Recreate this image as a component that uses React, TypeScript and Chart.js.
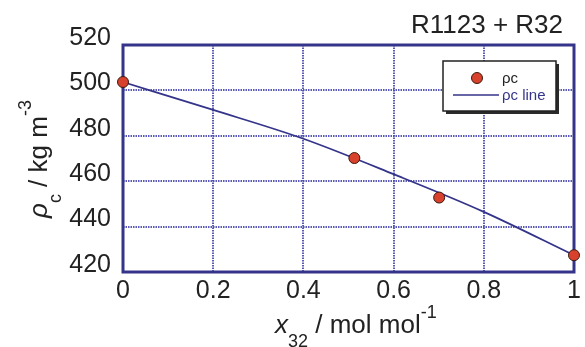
import React, { useEffect, useRef } from "react";
import { Chart, registerables } from "chart.js";

Chart.register(...registerables);

// ---- data ----
const pointX = [0, 0.513, 0.701, 1];
const pointY = [503.7, 470.2, 452.8, 427.4];
const lineX = [0, 0.2, 0.4, 0.6, 0.8, 1];
const lineY = [503.7, 491.4, 478.7, 463.1, 446.5, 427.4];
const xTicks = [0, 0.2, 0.4, 0.6, 0.8, 1];
const yTicks = [420, 440, 460, 480, 500, 520];
const seriesNames = ["ρc", "ρc line"];
const chartTitle = "R1123 + R32";

// ---- styles ----
const NAVY = "#34348a";
const GRID = "rgba(72,72,172,0.9)";
const RED = "#d8412b";
const TEXT = "#222222";
const FONT = "'Liberation Sans', Arial, sans-serif";

type Seg = { t: string; size: number; dy: number; italic?: boolean };

function drawRich(ctx: CanvasRenderingContext2D, segs: Seg[], x: number, y: number) {
  let cx = x;
  for (const s of segs) {
    ctx.font = `${s.italic ? "italic " : ""}${s.size}px ${FONT}`;
    ctx.fillText(s.t, cx, y + s.dy);
    cx += ctx.measureText(s.t).width;
  }
}

const decorPlugin = {
  id: "decor",
  beforeDatasetsDraw(chart: any) {
    const { ctx, chartArea: a } = chart;
    ctx.save();
    ctx.strokeStyle = NAVY;
    ctx.lineWidth = 3;
    ctx.strokeRect(a.left, a.top, a.right - a.left, a.bottom - a.top);
    ctx.restore();
  },
  afterDraw(chart: any) {
    const ctx: CanvasRenderingContext2D = chart.ctx;
    ctx.save();
    ctx.fillStyle = TEXT;
    ctx.textBaseline = "alphabetic";
    ctx.textAlign = "left";

    // title
    ctx.font = `26px ${FONT}`;
    ctx.textAlign = "right";
    ctx.fillText(chartTitle, 563, 33);
    ctx.textAlign = "left";

    // x axis title
    drawRich(
      ctx,
      [
        { t: "x", size: 26, dy: 0, italic: true },
        { t: "32", size: 18, dy: 14 },
        { t: " / mol mol", size: 26, dy: 0 },
        { t: "-1", size: 18, dy: -15 },
      ],
      275,
      333
    );

    // y axis title
    ctx.save();
    ctx.translate(47, 218);
    ctx.rotate(-Math.PI / 2);
    drawRich(
      ctx,
      [
        { t: "ρ", size: 26, dy: 0, italic: true },
        { t: "c", size: 18, dy: 14 },
        { t: " / kg m", size: 26, dy: 0 },
        { t: "-3", size: 18, dy: -16 },
      ],
      0,
      0
    );
    ctx.restore();

    // legend
    const bx = 443, by = 61, bw = 113, bh = 50;
    ctx.fillStyle = "#2a2a2a";
    ctx.fillRect(bx + 3, by + 3, bw, bh);
    ctx.fillStyle = "#ffffff";
    ctx.fillRect(bx, by, bw, bh);
    ctx.strokeStyle = "#222222";
    ctx.lineWidth = 1.5;
    ctx.strokeRect(bx, by, bw, bh);

    ctx.beginPath();
    ctx.arc(477, 78, 5.5, 0, Math.PI * 2);
    ctx.fillStyle = RED;
    ctx.fill();
    ctx.strokeStyle = "#3a1a10";
    ctx.lineWidth = 1;
    ctx.stroke();

    ctx.beginPath();
    ctx.moveTo(453, 95);
    ctx.lineTo(499, 95);
    ctx.strokeStyle = NAVY;
    ctx.lineWidth = 1.5;
    ctx.stroke();

    ctx.font = `15px ${FONT}`;
    ctx.fillStyle = TEXT;
    ctx.fillText(seriesNames[0], 502, 83);
    ctx.fillStyle = NAVY;
    ctx.fillText(seriesNames[1], 502, 100);

    ctx.restore();
  },
};

export default function App() {
  const ref = useRef<HTMLCanvasElement>(null);

  useEffect(() => {
    if (!ref.current) return;
    const gridColor = (c: any) =>
      c.index === 0 || c.index === 5 ? "rgba(0,0,0,0)" : GRID;
    const chart = new Chart(ref.current, {
      type: "scatter",
      data: {
        datasets: [
          {
            label: seriesNames[0],
            data: pointX.map((x, i) => ({ x, y: pointY[i] })),
            showLine: false,
            pointRadius: 5.5,
            pointBackgroundColor: RED,
            pointBorderColor: "#3a1a10",
            pointBorderWidth: 1,
            clip: false as any,
          },
          {
            label: seriesNames[1],
            data: lineX.map((x, i) => ({ x, y: lineY[i] })),
            showLine: true,
            pointRadius: 0,
            borderColor: NAVY,
            borderWidth: 1.8,
            cubicInterpolationMode: "monotone",
            clip: false as any,
          },
        ],
      },
      options: {
        animation: false,
        responsive: false,
        layout: { padding: { left: 0, top: 45, right: 11, bottom: 0 } },
        plugins: {
          legend: { display: false },
          tooltip: { enabled: false },
          title: { display: false },
        },
        scales: {
          x: {
            type: "linear",
            min: 0,
            max: 1,
            afterBuildTicks: (s: any) => {
              s.ticks = xTicks.map((v) => ({ value: v }));
            },
            afterFit: (s: any) => {
              s.height = 75;
            },
            ticks: {
              color: TEXT,
              font: { family: FONT, size: 25 },
              padding: 4,
              maxRotation: 0,
              callback: (v: any) => String(Number(Number(v).toFixed(1))),
            },
            grid: { color: gridColor, lineWidth: 2, drawTicks: false },
            border: { display: false, dash: [1.5, 1] },
          },
          y: {
            type: "linear",
            min: 420,
            max: 520,
            afterBuildTicks: (s: any) => {
              s.ticks = yTicks.map((v) => ({ value: v }));
            },
            afterFit: (s: any) => {
              s.width = 123;
            },
            ticks: {
              color: TEXT,
              font: { family: FONT, size: 25 },
              padding: 12,
              labelOffset: -7,
            },
            grid: { color: gridColor, lineWidth: 2, drawTicks: false },
            border: { display: false, dash: [1.5, 1] },
          },
        },
      } as any,
      plugins: [decorPlugin],
    });
    return () => chart.destroy();
  }, []);

  return (
    <div style={{ position: "absolute", left: 0, top: 0, width: 585, height: 347, background: "#fff" }}>
      <canvas ref={ref} width={585} height={347} style={{ display: "block" }} />
    </div>
  );
}
